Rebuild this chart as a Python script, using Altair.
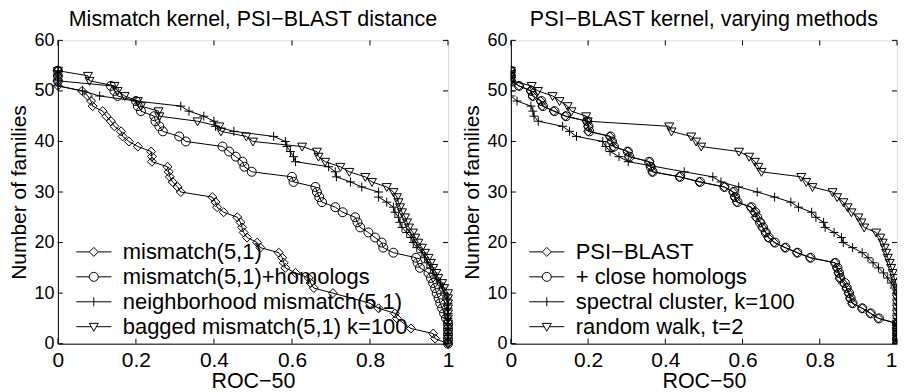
import altair as alt
import pandas as pd

FONT = "Liberation Sans"

# ---------------- data ----------------
X_TICKS = [0, 0.2, 0.4, 0.6, 0.8, 1]
Y_TICKS = [0, 10, 20, 30, 40, 50, 60]

LEFT_TITLE = "Mismatch kernel, PSI\u2212BLAST distance"
RIGHT_TITLE = "PSI\u2212BLAST kernel, varying methods"
X_TITLE = "ROC\u221250"
Y_TITLE = "Number of families"

LEFT_SERIES = ["mismatch(5,1)", "mismatch(5,1)+homologs",
               "neighborhood mismatch(5,1)", "bagged mismatch(5,1) k=100"]
RIGHT_SERIES = ["PSI\u2212BLAST", "+ close homologs",
                "spectral cluster, k=100", "random walk, t=2"]

# left panel: mismatch(5,1)
LD_X = [0, 0, 0, 0, 0.062, 0.077, 0.085, 0.089, 0.115, 0.124, 0.136, 0.145, 0.162, 0.166,
        0.182, 0.205, 0.239, 0.241, 0.241, 0.281, 0.284, 0.287, 0.294, 0.307, 0.315, 0.396,
        0.404, 0.408, 0.425, 0.46, 0.468, 0.472, 0.476, 0.485, 0.511, 0.519, 0.566, 0.575,
        0.579, 0.583, 0.609, 0.643, 0.648, 0.656, 0.705, 0.80, 0.822, 0.864, 0.869, 0.905,
        0.962, 0.967, 1]
LD_Y = [54, 53, 52, 51, 50, 49, 48, 47, 46, 45, 44, 43, 42, 41, 40, 39, 38, 37, 36, 35, 34,
        33, 32, 31, 30, 29, 28, 27, 26, 25, 24, 23, 22, 21, 20, 19, 18, 17, 16, 15, 14, 13,
        12, 11, 10, 8, 7, 6, 5, 3, 2, 1, 0]
# left panel: mismatch(5,1)+homologs
LC_X = [0, 0, 0, 0.136, 0.145, 0.153, 0.2, 0.205, 0.213, 0.247, 0.25, 0.26, 0.269, 0.311,
        0.328, 0.422, 0.439, 0.456, 0.473, 0.478, 0.497, 0.6, 0.604, 0.66, 0.664, 0.67, 0.677,
        0.711, 0.73, 0.762, 0.768, 0.775, 0.796, 0.813, 0.83, 0.834, 0.86, 0.918, 0.922, 0.928,
        0.95, 0.956, 0.962, 0.967, 0.971, 0.976, 0.98, 0.985, 0.99, 0.995, 1, 1, 1, 1, 1]
LC_Y = [54, 53, 52, 51, 50, 49, 48, 47, 46, 45, 44, 43, 42, 41, 40, 39, 38, 37, 36, 35, 34,
        33, 32, 31, 30, 29, 28, 27, 26, 25, 24, 23, 22, 21, 20, 19, 18, 17, 16, 15, 14, 13,
        12, 11, 10, 9, 8, 7, 6, 5, 4, 3, 2, 1, 0]
# left panel: neighborhood mismatch(5,1)
LP_X = [0, 0, 0, 0, 0.063, 0.107, 0.2, 0.315, 0.336, 0.374, 0.4, 0.404, 0.451, 0.553, 0.583,
        0.587, 0.596, 0.604, 0.609, 0.694, 0.711, 0.714, 0.75, 0.779, 0.822, 0.822, 0.843,
        0.86, 0.864, 0.873, 0.877, 0.882, 0.894, 0.905, 0.911, 0.92, 0.933, 0.94, 0.946,
        0.955, 0.962, 0.97, 0.98, 0.985, 0.99, 0.997, 1, 1, 1, 1, 1, 1, 1, 1, 1]
LP_Y = [54, 53, 52, 51, 50, 49, 48, 47, 46, 45, 44, 43, 42, 41, 40, 39, 38, 37, 36, 35, 34,
        33, 32, 31, 30, 29, 28, 27, 26, 25, 24, 23, 22, 21, 20, 19, 18, 17, 16, 15, 14, 13,
        12, 11, 10, 9, 8, 7, 6, 5, 4, 3, 2, 1, 0]
# left panel: bagged mismatch(5,1) k=100
LT_X = [0, 0.077, 0.081, 0.145, 0.153, 0.171, 0.205, 0.213, 0.258, 0.26, 0.358, 0.414, 0.418,
        0.483, 0.5, 0.626, 0.664, 0.668, 0.685, 0.724, 0.747, 0.788, 0.805, 0.843, 0.86, 0.869,
        0.873, 0.877, 0.882, 0.89, 0.895, 0.9, 0.91, 0.916, 0.924, 0.933, 0.941, 0.95, 0.956,
        0.962, 0.97, 0.975, 0.985, 0.99, 1, 1, 1, 1, 1, 1, 1, 1, 1, 1, 1]
LT_Y = [54, 53, 52, 51, 50, 49, 48, 47, 46, 45, 44, 43, 42, 41, 40, 39, 38, 37, 36, 35, 34,
        33, 32, 31, 30, 29, 28, 27, 26, 25, 24, 23, 22, 21, 20, 19, 18, 17, 16, 15, 14, 13,
        12, 11, 10, 9, 8, 7, 6, 5, 4, 3, 2, 1, 0]

# right panel: PSI-BLAST
RD_X = [0, 0, 0, 0.021, 0.051, 0.056, 0.077, 0.081, 0.111, 0.141, 0.197, 0.2, 0.2, 0.256,
        0.261, 0.265, 0.303, 0.305, 0.359, 0.363, 0.367, 0.437, 0.488, 0.553, 0.575, 0.579,
        0.585, 0.621, 0.63, 0.634, 0.647, 0.651, 0.66, 0.666, 0.682, 0.71, 0.741, 0.775, 0.839,
        0.844, 0.848, 0.852, 0.86, 0.869, 0.874, 0.878, 0.884, 0.91, 0.931, 0.952, 1, 1, 1, 1, 1]
RD_Y = [54, 53, 52, 51, 50, 49, 48, 47, 46, 45, 44, 43, 42, 41, 40, 39, 38, 37, 36, 35, 34,
        33, 32, 31, 30, 29, 28, 27, 26, 25, 24, 23, 22, 21, 20, 19, 18, 17, 16, 15, 14, 13,
        12, 11, 10, 9, 8, 7, 6, 5, 4, 3, 2, 1, 0]
# right panel: + close homologs
RC_X = [0, 0, 0, 0.021, 0.053, 0.057, 0.079, 0.083, 0.113, 0.143, 0.198, 0.201, 0.203, 0.258,
        0.262, 0.267, 0.303, 0.307, 0.358, 0.362, 0.367, 0.438, 0.49, 0.553, 0.577, 0.581,
        0.587, 0.623, 0.633, 0.638, 0.645, 0.653, 0.66, 0.668, 0.684, 0.711, 0.742, 0.776, 0.84,
        0.846, 0.85, 0.853, 0.865, 0.87, 0.876, 0.88, 0.885, 0.91, 0.932, 0.953, 1, 1, 1, 1, 1]
RC_Y = [54, 53, 52, 51, 50, 49, 48, 47, 46, 45, 44, 43, 42, 41, 40, 39, 38, 37, 36, 35, 34,
        33, 32, 31, 30, 29, 28, 27, 26, 25, 24, 23, 22, 21, 20, 19, 18, 17, 16, 15, 14, 13,
        12, 11, 10, 9, 8, 7, 6, 5, 4, 3, 2, 1, 0]
# right panel: spectral cluster, k=100
RP_X = [0, 0, 0, 0, 0, 0, 0.016, 0.052, 0.057, 0.06, 0.071, 0.134, 0.152, 0.17, 0.238, 0.246,
        0.257, 0.28, 0.304, 0.449, 0.523, 0.544, 0.59, 0.638, 0.683, 0.725, 0.745, 0.779, 0.79,
        0.81, 0.814, 0.837, 0.856, 0.861, 0.885, 0.91, 0.925, 0.938, 0.952, 0.965, 0.976,
        0.985, 0.993, 1, 1, 1, 1, 1, 1, 1, 1, 1, 1, 1]
RP_Y = [54, 53, 52, 51, 50, 49, 48, 47, 46, 45, 44, 43, 42, 41, 40, 39, 38, 37, 36, 34, 33,
        32, 31, 30, 29, 28, 27, 26, 25, 24, 23, 22, 21, 20, 19, 18, 17, 16, 15, 14, 13, 12,
        11, 10, 9, 8, 7, 6, 5, 4, 3, 2, 1, 0]
# right panel: random walk, t=2
RT_X = [0, 0, 0, 0.054, 0.07, 0.108, 0.126, 0.147, 0.157, 0.195, 0.199, 0.41, 0.416, 0.467,
        0.48, 0.493, 0.591, 0.617, 0.632, 0.641, 0.649, 0.752, 0.765, 0.781, 0.833, 0.845,
        0.861, 0.872, 0.882, 0.9, 0.908, 0.915, 0.946, 0.957, 0.963, 0.968, 0.972, 0.976,
        0.981, 0.985, 0.989, 0.993, 0.997, 1, 1, 1, 1, 1, 1, 1, 1, 1, 1, 1, 1]
RT_Y = [54, 53, 52, 51, 50, 49, 48, 47, 46, 45, 44, 43, 42, 41, 40, 39, 38, 37, 36, 35, 34,
        33, 32, 31, 30, 29, 28, 27, 26, 25, 24, 23, 22, 21, 20, 19, 18, 17, 16, 15, 14, 13,
        12, 11, 10, 9, 8, 7, 6, 5, 4, 3, 2, 1, 0]

# ---------------- styling ----------------
PLOT_H = 304
LEFT_W = 391
RIGHT_W = 387
GAP = 63
TICK = 5

MARKERS = [
    "M0,-1L1,0L0,1L-1,0Z",                          # diamond
    "M1,0A1,1,0,1,1,-1,0A1,1,0,1,1,1,0Z",           # circle
    "M-1,0H1M0,-1V1",                               # plus
    "M-1,-0.75L1,-0.75L0,1Z",                       # triangle down
]
LEGEND_MARKERS = [
    "M-3.9,0H-1M1,0H3.9M0,-1L1,0L0,1L-1,0Z",
    "M-3.9,0H-1M1,0H3.9M1,0A1,1,0,1,1,-1,0A1,1,0,1,1,1,0Z",
    "M-3.9,0H3.9M0,-1V1",
    "M-3.9,0H-0.57M0.57,0H3.9M-1,-0.75L1,-0.75L0,1Z",
]


def make_frame(names, xs_list, ys_list):
    rows = []
    for name, xs, ys in zip(names, xs_list, ys_list):
        assert len(xs) == len(ys), name
        for i, (xv, yv) in enumerate(zip(xs, ys)):
            rows.append({"series": name, "idx": i, "x": xv, "y": yv})
    return pd.DataFrame(rows)


def make_panel(frame, names, title, width, last_label_align, clip):
    x_scale = alt.Scale(domain=[0, 1], nice=False, zero=False)
    y_scale = alt.Scale(domain=[0, 60], nice=False, zero=False)
    x_axis = alt.Axis(values=X_TICKS, format="~g", title=X_TITLE, ticks=False, grid=False,
                      labelFont=FONT, labelFontSize=21, labelPadding=6, labelColor="black",
                      labelFlush=False, labelOverlap=False,
                      labelAlign={"expr": f"datum.value == 1 ? '{last_label_align}' : 'center'"},
                      titleFont=FONT, titleFontSize=21.5, titleFontWeight="normal",
                      titleColor="black", titlePadding=0, domainColor="black", domainWidth=1)
    y_axis = alt.Axis(values=Y_TICKS, title=Y_TITLE, ticks=False, grid=False,
                      labelFont=FONT, labelFontSize=18, labelPadding=4, labelColor="black",
                      labelFlush=False, labelOverlap=False,
                      titleFont=FONT, titleFontSize=21, titleFontWeight="normal",
                      titleColor="black", titlePadding=4, domainColor="black", domainWidth=1)

    def X(f):
        return alt.X(f"{f}:Q", scale=x_scale, axis=x_axis)

    def Y(f):
        return alt.Y(f"{f}:Q", scale=y_scale, axis=y_axis)

    base = alt.Chart(frame)
    lines = base.mark_line(color="black", strokeWidth=1, clip=clip).encode(
        x=X("x"), y=Y("y"), detail="series:N", order="idx:Q")
    points = base.mark_point(filled=False, color="black", strokeWidth=1, size=81,
                             opacity=1, clip=clip).encode(
        x=X("x"), y=Y("y"),
        shape=alt.Shape("series:N", scale=alt.Scale(domain=names, range=MARKERS),
                        legend=None))
    xt = alt.Chart(pd.DataFrame({"t": X_TICKS}))
    yt = alt.Chart(pd.DataFrame({"t": Y_TICKS}))
    rule = dict(color="black", strokeWidth=1)
    top = xt.mark_rule(**rule).encode(x=X("t"), y=alt.value(0), y2=alt.value(TICK))
    bottom = xt.mark_rule(**rule).encode(x=X("t"), y=alt.value(PLOT_H),
                                         y2=alt.value(PLOT_H - TICK))
    left = yt.mark_rule(**rule).encode(y=Y("t"), x=alt.value(0), x2=alt.value(TICK))
    right = yt.mark_rule(**rule).encode(y=Y("t"), x=alt.value(width),
                                        x2=alt.value(width - TICK))
    legend_layer = base.transform_filter("false").mark_point(
        filled=False, color="black", strokeWidth=1, size=81, opacity=1).encode(
        shape=alt.Shape("series:N",
                        scale=alt.Scale(domain=names, range=LEGEND_MARKERS),
                        legend=alt.Legend(title=None, orient="none", direction="vertical",
                                          legendX=25, legendY=201, padding=0,
                                          symbolSize=81, symbolStrokeWidth=1,
                                          symbolStrokeColor="black",
                                          symbolFillColor="transparent",
                                          symbolOpacity=1,
                                          labelFont=FONT, labelFontSize=22,
                                          labelColor="black", labelOffset=18,
                                          labelLimit=0, rowPadding=3)))
    return alt.layer(lines, points, top, bottom, left, right, legend_layer).resolve_scale(
        shape="independent").properties(
        width=width, height=PLOT_H,
        title=alt.Title(title, font=FONT, fontSize=21.5, fontWeight="normal",
                        color="black", offset=1, anchor="middle"))


left_df = make_frame(LEFT_SERIES, [LD_X, LC_X, LP_X, LT_X], [LD_Y, LC_Y, LP_Y, LT_Y])
right_df = make_frame(RIGHT_SERIES, [RD_X, RC_X, RP_X, RT_X], [RD_Y, RC_Y, RP_Y, RT_Y])

chart = alt.hconcat(
    make_panel(left_df, LEFT_SERIES, LEFT_TITLE, LEFT_W, "center", False),
    make_panel(right_df, RIGHT_SERIES, RIGHT_TITLE, RIGHT_W, "right", True),
    spacing=GAP, padding=0, bounds="flush",
).resolve_scale(shape="independent").configure_view(
    stroke="black", strokeWidth=1).configure(background="white")

chart.save("out.html", embed_options={"renderer": "svg", "actions": False})
